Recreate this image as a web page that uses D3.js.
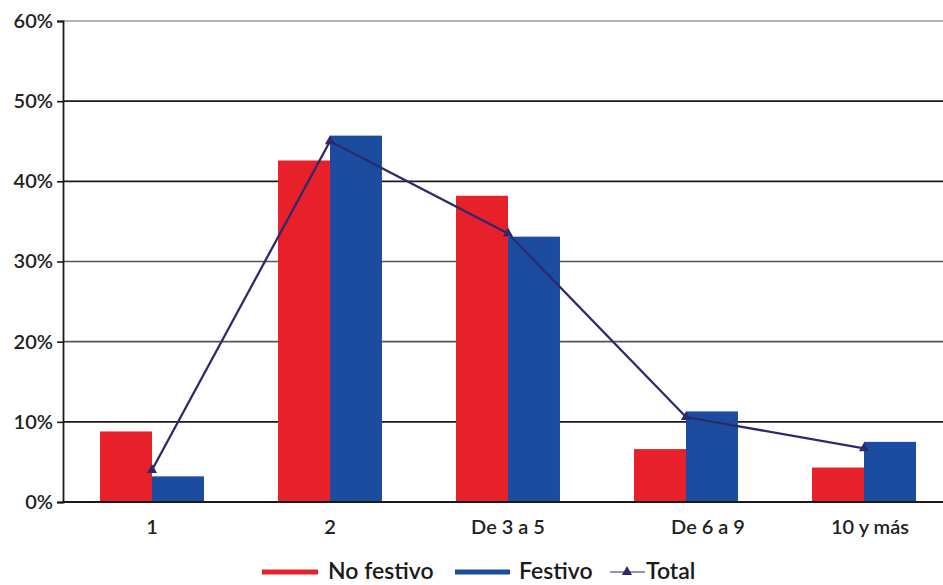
<!DOCTYPE html>
<html>
<head>
<meta charset="utf-8">
<script src="https://cdn.jsdelivr.net/npm/d3@7/dist/d3.min.js"></script>
<style>
  body { margin: 0; background: #fff; }
  svg { display: block; }
  text { font-family: Lato, "Open Sans", sans-serif; }
</style>
</head>
<body>
<svg id="chart" width="943" height="585"></svg>
<script>
const categories = ["1", "2", "De 3 a 5", "De 6 a 9", "10 y más"];
const noFestivo = [0.088, 0.426, 0.382, 0.066, 0.043];
const festivo   = [0.032, 0.457, 0.331, 0.113, 0.075];
const total     = [0.040, 0.450, 0.335, 0.106, 0.067];
const yTicks = [0, 0.1, 0.2, 0.3, 0.4, 0.5, 0.6];
const seriesNames = ["No festivo", "Festivo", "Total"];

const svg = d3.select("#chart");
const red = "#e8202a", blue = "#1b4ca0", navy = "#2d2a6c";

const x = d3.scaleBand().domain(categories).range([63, 953])
  .paddingInner(0.416).paddingOuter(0.208);
const sub = d3.scaleBand().domain(["nf", "f"]).range([0, x.bandwidth()]);
const y = d3.scaleLinear().domain([0, 0.6]).range([502, 21]);

// gridlines
svg.append("g").selectAll("line").data(yTicks.filter(d => d > 0)).join("line")
  .attr("x1", 63).attr("x2", 953)
  .attr("y1", d => y(d)).attr("y2", d => y(d))
  .attr("stroke", d => d === 0.6 ? "#9a9a9a" : (d === 0.3 || d === 0.2 ? "#555" : "#1a1a1a"))
  .attr("stroke-width", 1.6);

// bars
const g = svg.append("g");
categories.forEach((c, i) => {
  g.append("rect").attr("x", x(c) + sub("nf")).attr("width", sub.bandwidth())
    .attr("y", y(noFestivo[i])).attr("height", y(0) - y(noFestivo[i])).attr("fill", red);
  g.append("rect").attr("x", x(c) + sub("f")).attr("width", sub.bandwidth())
    .attr("y", y(festivo[i])).attr("height", y(0) - y(festivo[i])).attr("fill", blue);
});

// total line
const lineGen = d3.line().x((d, i) => x(categories[i]) + x.bandwidth() / 2).y(d => y(d));
svg.append("path").datum(total).attr("d", lineGen)
  .attr("fill", "none").attr("stroke", navy).attr("stroke-width", 2.3);
const tri = d3.symbol().type(d3.symbolTriangle).size(45);
svg.append("g").selectAll("path").data(total).join("path")
  .attr("d", tri)
  .attr("transform", (d, i) => `translate(${x(categories[i]) + x.bandwidth() / 2},${y(d)})`)
  .attr("fill", navy);

// y axis
const yAxis = d3.axisLeft(y).tickValues(yTicks).tickFormat(d3.format(".0%"))
  .tickSize(6).tickPadding(4);
const ya = svg.append("g").attr("transform", "translate(63,0)").call(yAxis);
ya.select(".domain").attr("stroke", "#1a1a1a").attr("stroke-width", 1.8);
ya.selectAll(".tick line").attr("stroke", "#1a1a1a").attr("stroke-width", 1.6);
ya.selectAll(".tick text").attr("fill", "#222").style("font-size", "20px").style("font-weight", "600");

// x axis
const xAxis = d3.axisBottom(x).tickSize(0).tickPadding(18);
const xa = svg.append("g").attr("transform", `translate(0,${y(0)})`).call(xAxis);
xa.select(".domain").attr("d", `M63,0H953`).attr("stroke", "#1a1a1a").attr("stroke-width", 1.8);
xa.selectAll(".tick text").attr("fill", "#222").style("font-size", "20px").style("font-weight", "600");
xa.selectAll(".tick").filter(d => d === "De 6 a 9").select("text").attr("dx", 22);
xa.selectAll(".tick").filter(d => d === "10 y más").select("text").attr("dx", 6);

// legend
const leg = svg.append("g").attr("transform", "translate(0,572)");
const fs = "23px";
leg.append("line").attr("x1", 262).attr("x2", 318).attr("y1", 0).attr("y2", 0)
  .attr("stroke", red).attr("stroke-width", 5);
leg.append("text").attr("x", 328).attr("y", 7).text(seriesNames[0])
  .style("font-size", fs).style("font-weight", "600").attr("fill", "#1a1a1a");
leg.append("line").attr("x1", 455).attr("x2", 510).attr("y1", 0).attr("y2", 0)
  .attr("stroke", blue).attr("stroke-width", 5);
leg.append("text").attr("x", 519).attr("y", 7).text(seriesNames[1])
  .style("font-size", fs).style("font-weight", "600").attr("fill", "#1a1a1a");
leg.append("line").attr("x1", 610).attr("x2", 645).attr("y1", 0).attr("y2", 0)
  .attr("stroke", navy).attr("stroke-width", 1.2);
leg.append("path").attr("d", tri).attr("transform", "translate(627,0)").attr("fill", navy);
leg.append("text").attr("x", 646).attr("y", 7).text(seriesNames[2])
  .style("font-size", fs).style("font-weight", "600").attr("fill", "#1a1a1a");
</script>
</body>
</html>
